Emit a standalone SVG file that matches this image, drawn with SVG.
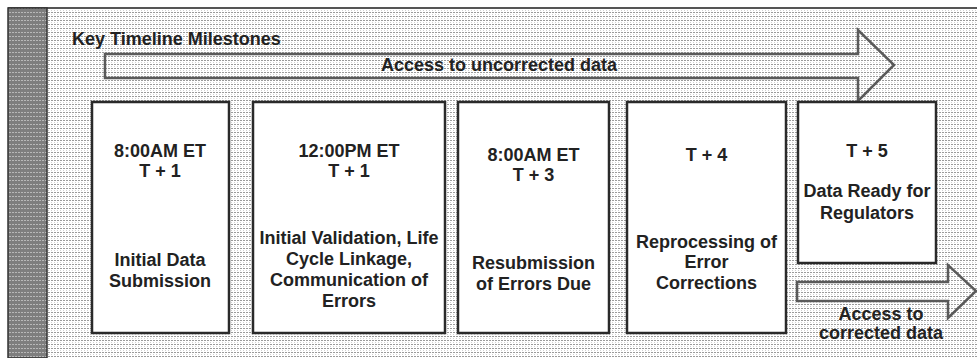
<svg xmlns="http://www.w3.org/2000/svg" width="977" height="358" viewBox="0 0 977 358">
  <defs>
    <pattern id="dots" width="3" height="4" patternUnits="userSpaceOnUse">
      <rect width="3" height="4" fill="#ffffff"/>
      <rect width="2" height="1" fill="#9a9a9a"/>
      <rect y="2" width="1" height="1" fill="#d0d0d0"/>
    </pattern>
    <pattern id="bardots" width="3" height="4" patternUnits="userSpaceOnUse">
      <rect width="3" height="4" fill="#7e7e7e"/>
      <rect width="2" height="1" fill="#b8b8b8"/>
    </pattern>
    <style>
      .t { font-family: "Liberation Sans", Arial, sans-serif; font-weight: bold; font-size: 18px; fill: #222; text-anchor: middle; }
      .box { fill: #ffffff; stroke: #2a2a2a; stroke-width: 2.5; }
      .arrow { fill: url(#dots); stroke: #5a5a5a; stroke-width: 2.5; stroke-linejoin: miter; }
    </style>
  </defs>

  <!-- background -->
  <rect x="0" y="0" width="977" height="358" fill="#ffffff"/>
  <rect x="8" y="8" width="969" height="350" fill="url(#dots)"/>
  <line x1="8" y1="8" x2="977" y2="8" stroke="#555" stroke-width="2"/>
  <rect x="8" y="8" width="39" height="350" fill="url(#bardots)" stroke="#333" stroke-width="1.5"/>

  <text class="t" x="72" y="45" style="text-anchor:start">Key Timeline Milestones</text>

  <g id="connectors">
    <g id="arrow-uncorrected">
      <polygon class="arrow" points="105,54 858,54 858,30 894,65 858,101 858,78 105,78"/>
      <text class="t" x="499" y="71">Access to uncorrected data</text>
    </g>
    <g id="arrow-corrected">
      <polygon class="arrow" points="797,282 948,282 948,265 976,291 948,318 948,301 797,301"/>
      <text class="t" x="881" y="320">Access to</text>
      <text class="t" x="881" y="339">corrected data</text>
    </g>
  </g>

  <g id="node-t1-am">
    <rect class="box" x="92" y="102" width="137" height="231"/>
    <text class="t" x="160" y="157">8:00AM ET</text>
    <text class="t" x="160" y="177">T + 1</text>
    <text class="t" x="160" y="266">Initial Data</text>
    <text class="t" x="160" y="287">Submission</text>
  </g>

  <g id="node-t1-pm">
    <rect class="box" x="253" y="102" width="192" height="231"/>
    <text class="t" x="349" y="157">12:00PM ET</text>
    <text class="t" x="349" y="177">T + 1</text>
    <text class="t" x="349" y="244">Initial Validation, Life</text>
    <text class="t" x="349" y="265">Cycle Linkage,</text>
    <text class="t" x="349" y="286">Communication of</text>
    <text class="t" x="349" y="307">Errors</text>
  </g>

  <g id="node-t3">
    <rect class="box" x="458" y="102" width="151" height="231"/>
    <text class="t" x="533.5" y="161">8:00AM ET</text>
    <text class="t" x="533.5" y="181">T + 3</text>
    <text class="t" x="533.5" y="269">Resubmission</text>
    <text class="t" x="533.5" y="290">of Errors Due</text>
  </g>

  <g id="node-t4">
    <rect class="box" x="627" y="102" width="159" height="231"/>
    <text class="t" x="706.5" y="161">T + 4</text>
    <text class="t" x="706.5" y="248">Reprocessing of</text>
    <text class="t" x="706.5" y="268">Error</text>
    <text class="t" x="706.5" y="289">Corrections</text>
  </g>

  <g id="node-t5">
    <rect class="box" x="798" y="102" width="138" height="161"/>
    <text class="t" x="867" y="157">T + 5</text>
    <text class="t" x="867" y="197">Data Ready for</text>
    <text class="t" x="867" y="219">Regulators</text>
  </g>
</svg>
